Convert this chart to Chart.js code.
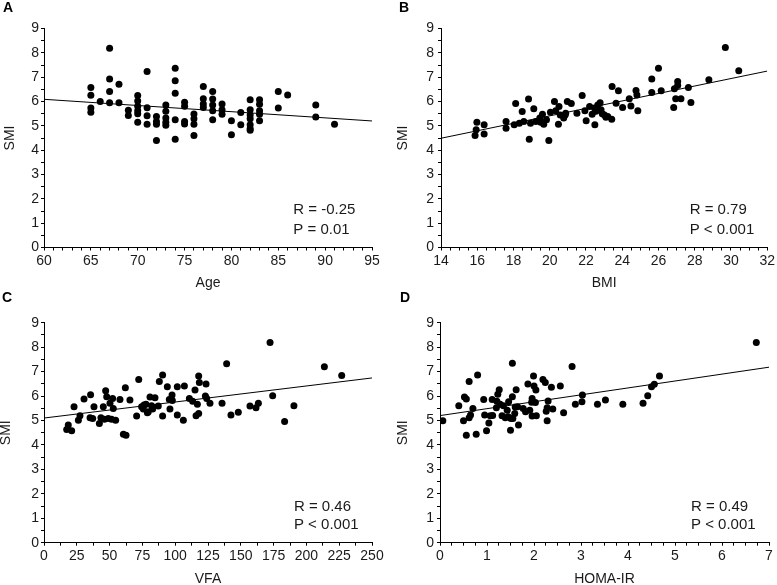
<!DOCTYPE html>
<html>
<head>
<meta charset="utf-8">
<script src="https://cdn.jsdelivr.net/npm/chart.js@4.4.1/dist/chart.umd.min.js"></script>
<style>
    body { margin: 0; background: #fff; }
    .panel { position: absolute; }
</style>
</head>
<body>
<div class="panel" style="left:0;top:0"><canvas id="chartA" width="388" height="292"></canvas></div>
<div class="panel" style="left:389px;top:0"><canvas id="chartB" width="388" height="292"></canvas></div>
<div class="panel" style="left:0;top:292px"><canvas id="chartC" width="388" height="293"></canvas></div>
<div class="panel" style="left:389px;top:292px"><canvas id="chartD" width="388" height="293"></canvas></div>
<script>
// A: age vs SMI
var ageX = [65,65,65,65, 66, 67,67,67,67, 68,68, 69,69, 70,70,70,70,70,70, 71,71,71,71, 72,72,72,72,
    73,73,73,73,73, 74,74,74,74,74, 75,75,75,75, 76,76,76,76, 77,77,77,77, 78,78,78,78,78, 79,79,79,
    80,80, 81,81, 82,82,82,82,82,82,82, 83,83,83,83,83, 85,85, 86, 89,89, 91];
var ageSMI = [6.58,6.26,5.73,5.56, 6.0, 8.19,6.92,6.41,5.95, 6.71,5.95, 5.64,5.42, 6.25,6.02,5.8,5.62,5.5,5.15,
    7.23,5.74,5.41,5.07, 5.38,5.18,5.07,4.4, 5.86,5.6,5.32,5.15,5.02, 7.37,6.85,6.34,5.25,4.45,
    5.97,5.8,5.18,5.08, 5.49,5.29,5.07,4.6, 6.62,6.11,5.9,5.75, 6.41,6.1,5.86,5.62,5.25, 5.9,5.66,5.48,
    5.21,4.63, 5.55,5.04, 6.07,5.66,5.45,5.29,5.04,4.88,4.82, 6.07,5.89,5.62,5.48,5.21, 6.41,5.73, 6.27, 5.86,5.36, 5.07];
var ageFitX = [60, 95];
var ageFitY = [6.09, 5.2];

// B: BMI vs SMI
var bmiX = [15.98,15.94,15.88,16.38,16.38,17.59,17.59,18.12,18.04,18.32,18.48,18.57,18.83,18.87,18.94,19.12,19.23,
    19.45,19.6,19.67,19.82,19.95,20.04,20.26,20.33,20.51,20.58,20.48,20.77,20.88,20.97,21.19,21.5,21.79,21.94,22.01,
    22.2,22.34,22.49,22.47,22.65,22.78,22.83,23.02,23.2,23.42,23.44,23.66,23.79,24.02,24.39,24.48,24.76,24.81,24.86,
    25.63,25.63,26.0,26.15,26.84,26.88,26.95,27.06,27.06,27.24,27.65,27.79,28.78,29.69,30.43,
    22.55,22.9,23.1,20.85,19.5];
var bmiSMI = [5.15,4.84,4.6,5.04,4.66,5.18,4.9,5.92,5.04,5.11,5.59,5.18,6.1,4.45,5.11,5.7,5.18,
    5.32,5.48,5.07,5.25,4.4,5.56,6.0,5.62,5.79,5.45,5.07,5.32,5.52,6.0,5.92,5.52,6.25,5.62,5.21,
    5.79,5.48,5.04,5.73,5.86,5.95,5.66,5.45,5.38,5.27,6.62,5.93,6.44,5.75,6.11,5.82,6.45,6.27,5.62,
    6.92,6.37,7.37,6.44,5.75,6.52,6.11,6.82,6.66,6.11,6.58,5.96,6.89,8.22,7.26,
    5.6,5.5,5.35,5.45,5.15];
var bmiFitX = [14, 32];
var bmiFitY = [4.49, 7.25];

// C: VFA vs SMI
var vfaX = [17.3,18.5,21.1,22.9,26.2,27.4,30.5,35.5,35.1,37.1,38.1,42.2,43.4,45.2,47,47.8,49,50.3,52.3,52.8,54.6,
    57.9,60.5,62.5,62,65.5,70.6,72.2,74.4,75.7,77.7,79.5,80.8,82,84.6,87.1,87.9,90.4,90.4,94,95.5,96,97.6,97.8,
    101.6,101.6,106.2,107,110.8,113.3,115.1,115.9,116.9,117.9,118.4,117.9,123,123.5,124,126.5,135.7,139.2,142.5,
    148.1,157,161.6,163.4,172.3,174.3,183.4,190.5,213.7,226.9,
    46,51.5,76.2,78.8,82.8];
var vfaSMI = [4.63,4.81,4.58,5.56,5.01,5.19,5.88,6.05,5.11,5.08,5.56,4.88,5.11,5.56,6.22,5.97,5.08,5.7,5.9,5.49,5.01,
    5.86,4.44,4.4,6.34,5.84,5.18,6.68,5.56,5.47,5.66,5.36,5.96,5.6,5.93,5.59,6.59,6.86,5.18,6.38,5.86,5.47,6.04,5.82,
    6.38,5.22,5.01,6.41,5.9,5.79,6.25,5.19,5.66,6.82,6.55,5.29,6.0,6.49,5.9,5.7,5.7,7.32,5.22,
    5.34,5.59,5.52,5.7,8.19,6.01,4.96,5.6,7.2,6.84,
    5.05,5.05,5.63,5.32,5.47];
var vfaFitX = [0, 250];
var vfaFitY = [5.1, 6.74];

// D: HOMA-IR vs SMI
var homaX = [0.06,0.4,0.52,0.56,0.56,0.5,0.62,0.62,0.65,0.7,0.77,0.8,0.93,0.95,0.99,1.04,1.07,1.11,1.2,1.23,1.26,1.21,
    1.28,1.32,1.35,1.39,1.43,1.46,1.5,1.51,1.54,1.54,1.55,1.59,1.62,1.65,1.67,1.77,1.82,1.87,1.91,1.96,1.96,1.99,2.0,
    2.03,2.04,2.05,2.19,2.24,2.26,2.28,2.37,2.4,2.28,2.56,2.63,2.81,2.88,3.02,3.03,3.35,3.52,3.89,4.32,4.42,4.5,4.56,
    4.67,6.73,
    1.45,1.6,1.95,1.12,2.3];
var homaSMI = [4.99,5.6,5.96,5.88,4.4,4.99,6.59,5.11,5.22,5.49,4.44,6.86,5.86,5.22,4.58,4.9,5.19,5.86,5.52,6.07,6.26,5.79,
    5.66,5.19,5.6,5.11,5.42,5.77,4.6,5.08,7.34,5.97,5.08,5.29,6.26,5.56,4.81,5.49,5.36,6.49,5.42,5.18,5.9,6.82,6.41,
    5.74,6.25,5.19,6.68,6.55,5.38,5.52,6.36,5.47,4.99,6.41,5.32,7.21,5.66,5.77,6.04,5.66,5.84,5.66,5.7,6.01,6.38,6.48,
    6.82,8.19,
    5.15,5.55,5.75,5.2,5.8];
var homaFitX = [0, 7];
var homaFitY = [5.2, 7.18];

var FONT = 'Arial, "Liberation Sans", Helvetica, sans-serif';
var INK = '#1a1a1a';

// draws the R / P text and the panel letter
var statsPlugin = {
    id: 'stats',
    afterDraw: function(chart, args, opts) {
        var ctx = chart.ctx;
        var sx = chart.scales.x, sy = chart.scales.y;
        ctx.save();
        ctx.fillStyle = INK;
        ctx.textBaseline = 'middle';
        ctx.textAlign = 'left';
        ctx.font = '15px ' + FONT;
        var x = sx.getPixelForValue(opts.textX);
        ctx.fillText(opts.r, x, sy.getPixelForValue(opts.rY));
        ctx.fillText(opts.p, x, sy.getPixelForValue(opts.pY));
        ctx.fillStyle = '#000';
        ctx.font = 'bold 14px ' + FONT;
        ctx.fillText(opts.letter, opts.letterX, opts.letterY);
        ctx.restore();
    }
};

function toPoints(xs, ys) {
    return xs.map(function(v, i) { return {x: v, y: ys[i]}; });
}

function isMajor(v, step) {
    var q = v / step;
    return Math.abs(q - Math.round(q)) < 1e-6;
}

function makePanel(id, xs, ys, fitX, fitY, p) {
    return new Chart(document.getElementById(id), {
        type: 'scatter',
        data: {
            datasets: [{
                data: toPoints(xs, ys),
                backgroundColor: '#000',
                borderWidth: 0,
                pointRadius: 3.5,
                pointHoverRadius: 3.5
            }, {
                data: toPoints(fitX, fitY),
                showLine: true,
                borderColor: '#000',
                borderWidth: 1,
                pointRadius: 0,
                fill: false
            }]
        },
        options: {
            responsive: false,
            animation: false,
            events: [],
            layout: { padding: { top: p.padTop, right: p.padRight, left: 0, bottom: 0 } },
            plugins: {
                legend: { display: false },
                tooltip: { enabled: false },
                stats: p.stats
            },
            scales: {
                x: {
                    type: 'linear',
                    min: p.xMin, max: p.xMax,
                    border: { color: '#000', width: 1 },
                    grid: { drawOnChartArea: false, drawTicks: true, tickLength: 3, color: '#000' },
                    ticks: {
                        stepSize: p.xMinor, autoSkip: false, maxRotation: 0, padding: 2,
                        color: INK, font: { size: 14, family: FONT },
                        callback: function(v) { return isMajor(v, p.xMajor) ? String(v) : ''; }
                    },
                    title: {
                        display: true, text: p.xTitle, color: INK,
                        font: { size: 14, family: FONT },
                        padding: { top: 0, bottom: p.xTitlePad }
                    },
                    afterFit: function(s) { s.height = p.xHeight; }
                },
                y: {
                    type: 'linear',
                    min: 0, max: 9,
                    border: { color: '#000', width: 1 },
                    grid: { drawOnChartArea: false, drawTicks: true, tickLength: 3, color: '#000' },
                    ticks: {
                        stepSize: 0.5, autoSkip: false, padding: p.yTickPad,
                        color: INK, font: { size: 14, family: FONT },
                        callback: function(v) { return isMajor(v, 1) ? String(v) : ''; }
                    },
                    title: {
                        display: true, text: 'SMI', color: INK,
                        font: { size: 14, family: FONT },
                        padding: { top: p.yTitlePad, bottom: 0 }
                    },
                    afterFit: function(s) { s.width = p.yWidth; }
                }
            }
        },
        plugins: [statsPlugin]
    });
}

makePanel('chartA', ageX, ageSMI, ageFitX, ageFitY, {
    xMin: 60, xMax: 95, xMinor: 1, xMajor: 5, xTitle: 'Age',
    padTop: 28.5, padRight: 16, yWidth: 44, xHeight: 44.5,
    yTickPad: 2, yTitlePad: 2, xTitlePad: 0,
    stats: { r: 'R = -0.25', p: 'P = 0.01', textX: 86.6, rY: 1.55, pY: 0.73, letter: 'A', letterX: 3, letterY: 8 }
});

makePanel('chartB', bmiX, bmiSMI, bmiFitX, bmiFitY, {
    xMin: 14, xMax: 32, xMinor: 0.5, xMajor: 2, xTitle: 'BMI',
    padTop: 28.5, padRight: 8, yWidth: 52, xHeight: 44.5,
    yTickPad: 4, yTitlePad: 6, xTitlePad: 0,
    stats: { r: 'R = 0.79', p: 'P < 0.001', textX: 27.72, rY: 1.55, pY: 0.73, letter: 'B', letterX: 10, letterY: 8 }
});

makePanel('chartC', vfaX, vfaSMI, vfaFitX, vfaFitY, {
    xMin: 0, xMax: 250, xMinor: 12.5, xMajor: 25, xTitle: 'VFA',
    padTop: 30.7, padRight: 16, yWidth: 44, xHeight: 42.3,
    yTickPad: 2, yTitlePad: -2, xTitlePad: -2.4,
    stats: { r: 'R = 0.46', p: 'P < 0.001', textX: 190.5, rY: 1.47, pY: 0.75, letter: 'C', letterX: 2, letterY: 6 }
});

makePanel('chartD', homaX, homaSMI, homaFitX, homaFitY, {
    xMin: 0, xMax: 7, xMinor: 0.25, xMajor: 1, xTitle: 'HOMA-IR',
    padTop: 30.7, padRight: 8, yWidth: 51, xHeight: 42.3,
    yTickPad: 3, yTitlePad: 6, xTitlePad: -2.4,
    stats: { r: 'R = 0.49', p: 'P < 0.001', textX: 5.34, rY: 1.47, pY: 0.75, letter: 'D', letterX: 11, letterY: 6 }
});
</script>
</body>
</html>
